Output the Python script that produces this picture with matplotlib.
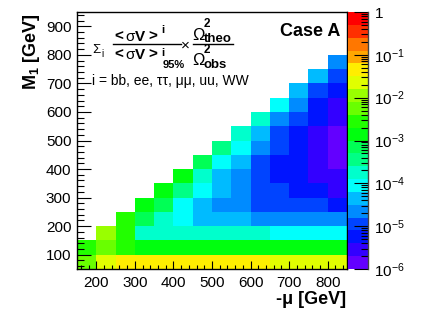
import colorsys
import numpy as np
import matplotlib
matplotlib.use('Agg')
import matplotlib.pyplot as plt
from matplotlib.lines import Line2D
from matplotlib.colors import ListedColormap, LogNorm
from matplotlib.ticker import MultipleLocator, LogLocator, NullFormatter, FixedLocator, FixedFormatter

plt.rcParams['font.family'] = ['Liberation Sans', 'DejaVu Sans']
plt.rcParams['mathtext.fontset'] = 'custom'
plt.rcParams['mathtext.rm'] = 'Liberation Sans'
plt.rcParams['mathtext.it'] = 'Liberation Sans:italic'
plt.rcParams['mathtext.bf'] = 'Liberation Sans:bold'

# bin edges
mu_edges = np.arange(150, 851, 50)   # -mu [GeV]
m1_edges = np.arange(50, 951, 50)    # M1 [GeV]

# log10 of the ratio in each filled bin, one list per -mu column, from M1 = 50 upwards
log_ratio = [
    [-2.2, -2.5],
    [-1.6, -2.2, -1.9],
    [-1.3, -2.5, -2.5, -2.5],
    [-1.3, -2.8, -3.7, -3.1, -2.8],
    [-1.3, -2.8, -3.7, -3.7, -3.1, -2.8],
    [-1.3, -2.8, -3.7, -4.0, -4.0, -3.4, -2.8],
    [-1.3, -2.8, -3.7, -4.3, -4.3, -4.0, -3.7, -3.1],
    [-1.3, -2.8, -3.7, -4.3, -4.6, -4.3, -4.3, -4.0, -3.4],
    [-1.3, -2.8, -3.7, -4.3, -4.6, -4.6, -4.6, -4.3, -4.0, -3.7],
    [-1.3, -2.8, -3.7, -4.6, -4.9, -4.9, -4.9, -4.9, -4.6, -4.3, -3.7],
    [-1.6, -2.8, -4.0, -4.6, -4.9, -4.9, -5.2, -5.2, -4.9, -4.9, -4.6, -4.0],
    [-1.6, -2.8, -4.0, -4.6, -4.9, -5.2, -5.2, -5.2, -5.2, -5.2, -4.9, -4.6, -4.3],
    [-1.6, -2.8, -4.0, -4.6, -4.9, -5.2, -5.5, -5.5, -5.5, -5.5, -5.2, -5.2, -4.9, -4.3],
    [-1.6, -2.8, -4.0, -4.6, -5.2, -5.5, -5.5, -5.8, -5.8, -5.8, -5.5, -5.5, -5.2, -4.9, -4.6],
]

cbar_ticks = [1e-6, 1e-5, 1e-4, 1e-3, 1e-2, 1e-1, 1]
cbar_labels = [r'$10^{-6}$', r'$10^{-5}$', r'$10^{-4}$', r'$10^{-3}$',
               r'$10^{-2}$', r'$10^{-1}$', '1']

# ROOT style "pretty" palette, 20 contour levels
ncont, npal = 20, 50
colors = []
for j in range(ncont):
    k = int((j + 0.99) * npal / ncont)
    hue = 0.0 if k >= npal - 1 else 280 - (k + 1) * 280 / npal
    colors.append(colorsys.hls_to_rgb(hue / 360, 0.5, 1.0))
cmap = ListedColormap(colors)

Z = np.full((len(m1_edges) - 1, len(mu_edges) - 1), np.nan)
for c, col in enumerate(log_ratio):
    Z[:len(col), c] = 10 ** np.array(col)

W, H = 433, 314
fig = plt.figure(figsize=(W / 100, H / 100), dpi=100)
L, R, T, B = 77, 347, 12, 269
ax = fig.add_axes([L / W, 1 - B / H, (R - L) / W, (B - T) / H])
mesh = ax.pcolormesh(mu_edges, m1_edges, np.ma.masked_invalid(Z), cmap=cmap,
                     norm=LogNorm(1e-6, 1))
ax.set_xlim(150, 850)
ax.set_ylim(50, 950)
for s in ax.spines.values():
    s.set_linewidth(1.0)

ax.xaxis.set_major_locator(MultipleLocator(100))
ax.xaxis.set_minor_locator(MultipleLocator(20))
ax.yaxis.set_major_locator(MultipleLocator(100))
ax.yaxis.set_minor_locator(MultipleLocator(20))
ax.tick_params(axis='x', which='major', direction='in', length=6, width=0.8,
               labelsize=11, pad=5)
ax.tick_params(axis='x', which='minor', direction='in', length=3, width=0.8)
ax.tick_params(axis='y', which='major', direction='in', length=10, width=0.8,
               labelsize=11, pad=4)
ax.tick_params(axis='y', which='minor', direction='in', length=5, width=0.8)


def ptext(x, y, s, **kw):
    # place text at pixel position (from top-left)
    kw.setdefault('va', 'baseline')
    kw.setdefault('ha', 'left')
    fig.text(x / W, 1 - y / H, s, **kw)


def pline(x0, x1, y):
    fig.add_artist(Line2D([x0 / W, x1 / W], [1 - y / H, 1 - y / H],
                          color='black', lw=1.0))


# formula
ptext(92, 53, 'Σ', fontsize=9.5)
ptext(101.5, 57, 'i', fontsize=7)
for yb in (41, 59):
    ptext(114, yb, '<', fontsize=11, fontweight='bold')
    ptext(125.5, yb, 'σ', fontsize=11)
    ptext(135, yb, 'V', fontsize=11, fontweight='bold')
    ptext(148, yb, '>', fontsize=11, fontweight='bold')
ptext(161.5, 33, 'i', fontsize=8, fontweight='bold')
ptext(161.5, 55.5, 'i', fontsize=8, fontweight='bold')
ptext(162.5, 68, '95%', fontsize=8, fontweight='bold')
pline(113, 181, 43.5)
ptext(185, 46, '×', fontsize=11, ha='center', va='center')
ptext(192.5, 40, 'Ω', fontsize=12)
ptext(204, 27, '2', fontsize=8.5, fontweight='bold')
ptext(204, 41.5, 'theo', fontsize=9.5, fontweight='bold')
pline(193, 233, 43.5)
ptext(192.5, 65, 'Ω', fontsize=12)
ptext(204, 53, '2', fontsize=8.5, fontweight='bold')
ptext(204, 68, 'obs', fontsize=9.5, fontweight='bold')

ptext(92, 81, 'i = bb, ee, ττ, μμ, uu, WW', fontsize=10, va='center')
ptext(340, 32, 'Case A', fontsize=13, fontweight='bold', ha='right', va='center')

ptext(346, 300, '-μ [GeV]', ha='right', va='center', fontsize=13,
      fontweight='bold')
ptext(32, 13, r'$\mathbf{M_{1}}$ [GeV]', rotation=90, ha='center',
      va='top', fontsize=13, fontweight='bold')

cax = fig.add_axes([348 / W, 1 - B / H, 19.5 / W, (B - T) / H])
cb = fig.colorbar(mesh, cax=cax)
cb.outline.set_visible(False)
cax.plot([1, 1], [0, 1], transform=cax.transAxes, color='#444444', lw=1.0,
         clip_on=False)
cax.yaxis.set_ticks_position('right')
cax.yaxis.set_major_locator(FixedLocator(cbar_ticks))
cax.yaxis.set_major_formatter(FixedFormatter(cbar_labels))
cax.yaxis.set_minor_locator(LogLocator(base=10, subs=np.arange(2, 10), numticks=20))
cax.yaxis.set_minor_formatter(NullFormatter())
cax.tick_params(axis='y', which='major', direction='in', length=10, width=0.8,
                labelsize=11, pad=5)
cax.tick_params(axis='y', which='minor', direction='in', length=5, width=0.8)

fig.savefig('out.png', dpi=100)
